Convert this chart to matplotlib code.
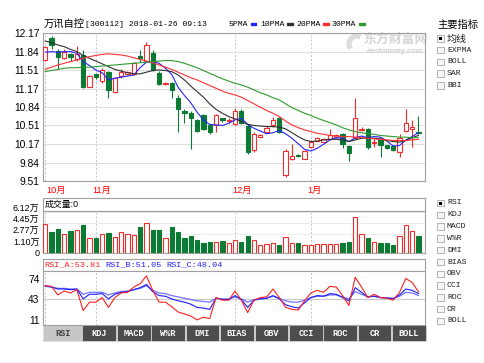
import matplotlib
matplotlib.use("Agg")
import matplotlib.pyplot as plt
import matplotlib.transforms as mtransforms
from matplotlib.patches import Rectangle, Wedge
import numpy as np

plt.rcParams["font.family"] = ["Liberation Sans", "Noto Sans CJK SC"]
MONO = ["Liberation Mono", "Noto Sans CJK SC"]

W, H = 485, 363

# ---- values: 60 daily sessions up to 2018-01-26 ----
open_ = [11.69, 12.09, 11.85, 11.73, 11.79, 11.70, 11.78, 11.21, 11.43, 11.31,
         11.47, 11.12, 11.40, 11.44, 11.44, 11.76, 11.68, 11.82, 11.46, 11.26,
         11.27, 11.01, 10.77, 10.74, 10.60, 10.69, 10.51, 10.51, 10.64, 10.59,
         10.54, 10.77, 10.50, 10.06, 10.31, 10.40, 10.51, 10.65, 9.61, 9.90,
         9.98, 9.91, 10.13, 10.23, 10.21, 10.27, 10.31, 10.35, 10.14, 10.29,
         10.43, 10.45, 10.20, 10.25, 10.15, 10.14, 10.04, 10.41, 10.45, 10.40]
high = [11.94, 12.12, 11.89, 11.88, 11.82, 11.94, 11.87, 11.42, 11.46, 11.55,
        11.50, 11.38, 11.52, 11.50, 11.65, 11.87, 12.02, 11.87, 11.50, 11.30,
        11.30, 11.05, 10.80, 10.77, 10.62, 10.71, 10.53, 10.71, 10.65, 10.64,
        10.83, 10.80, 10.53, 10.40, 10.36, 10.50, 10.66, 10.67, 10.08, 10.17,
        10.00, 10.06, 10.25, 10.30, 10.29, 10.45, 10.35, 10.37, 10.16, 11.00,
        10.48, 10.47, 10.28, 10.27, 10.16, 10.16, 10.36, 10.80, 10.60, 10.68]
low = [11.67, 11.88, 11.52, 11.71, 11.68, 11.68, 11.19, 11.20, 11.34, 11.28,
       11.01, 11.10, 11.37, 11.42, 11.42, 11.66, 11.66, 11.49, 11.23, 11.24,
       11.01, 10.40, 10.56, 10.08, 10.39, 10.43, 10.36, 10.40, 10.58, 10.55,
       10.52, 10.53, 10.00, 10.03, 10.29, 10.38, 10.49, 10.37, 9.59, 9.89,
       9.94, 9.90, 10.11, 10.21, 10.19, 10.25, 10.29, 10.11, 9.87, 10.27,
       10.41, 10.08, 10.12, 9.95, 10.08, 10.05, 9.94, 10.39, 10.12, 10.36]
close = [11.92, 11.96, 11.74, 11.83, 11.74, 11.80, 11.20, 11.40, 11.39, 11.51,
         11.15, 11.36, 11.48, 11.48, 11.63, 11.72, 11.96, 11.51, 11.25, 11.28,
         11.15, 10.81, 10.74, 10.64, 10.41, 10.45, 10.39, 10.69, 10.61, 10.61,
         10.77, 10.56, 10.03, 10.35, 10.33, 10.47, 10.61, 10.40, 10.05, 9.96,
         9.96, 10.05, 10.22, 10.28, 10.27, 10.33, 10.33, 10.17, 10.01, 10.65,
         10.45, 10.13, 10.22, 10.16, 10.10, 10.07, 10.29, 10.55, 10.48, 10.37]
# volume in 万
vol = [4.33, 3.09, 3.58, 2.84, 3.34, 3.44, 4.18, 2.29, 2.29, 2.79,
       2.94, 2.39, 3.09, 2.84, 2.69, 3.93, 4.43, 3.49, 3.49, 2.29,
       3.83, 3.19, 2.29, 2.59, 1.94, 1.44, 1.59, 1.69, 1.84, 1.49,
       1.94, 1.69, 2.59, 1.94, 1.25, 1.39, 1.49, 1.25, 2.39, 1.54,
       1.54, 1.15, 1.15, 1.39, 1.39, 1.34, 1.29, 1.54, 1.64, 5.33,
       2.79, 2.29, 1.69, 1.44, 1.44, 1.20, 2.54, 4.18, 3.34, 2.59]
ma5 = [11.83, 11.84, 11.83, 11.84, 11.84, 11.81, 11.66, 11.59, 11.51, 11.46,
       11.33, 11.36, 11.38, 11.40, 11.42, 11.55, 11.65, 11.66, 11.63, 11.54,
       11.43, 11.20, 11.05, 10.92, 10.75, 10.61, 10.53, 10.52, 10.51, 10.55,
       10.61, 10.64, 10.53, 10.46, 10.41, 10.36, 10.38, 10.42, 10.36, 10.28,
       10.18, 10.08, 10.05, 10.10, 10.17, 10.25, 10.29, 10.28, 10.22, 10.29,
       10.32, 10.29, 10.31, 10.30, 10.23, 10.14, 10.15, 10.25, 10.31, 10.38]
ma10 = [12.03, 12.00, 11.96, 11.93, 11.88, 11.84, 11.77, 11.72, 11.67, 11.62,
        11.57, 11.52, 11.49, 11.46, 11.44, 11.44, 11.47, 11.50, 11.51, 11.50,
        11.48, 11.42, 11.33, 11.22, 11.12, 11.02, 10.90, 10.80, 10.73, 10.67,
        10.63, 10.58, 10.53, 10.51, 10.50, 10.49, 10.49, 10.48, 10.45, 10.38,
        10.31, 10.25, 10.22, 10.23, 10.25, 10.26, 10.26, 10.25, 10.22, 10.25,
        10.28, 10.28, 10.28, 10.27, 10.24, 10.22, 10.21, 10.24, 10.29, 10.33]
ma20 = [11.52, 11.56, 11.60, 11.63, 11.66, 11.69, 11.72, 11.75, 11.77, 11.79,
        11.80, 11.79, 11.78, 11.76, 11.73, 11.70, 11.67, 11.64, 11.60, 11.56,
        11.52, 11.47, 11.42, 11.37, 11.33, 11.28, 11.23, 11.18, 11.13, 11.09,
        11.06, 11.02, 10.96, 10.90, 10.84, 10.78, 10.73, 10.67, 10.59, 10.52,
        10.47, 10.43, 10.40, 10.37, 10.35, 10.33, 10.32, 10.31, 10.31, 10.30,
        10.29, 10.28, 10.27, 10.26, 10.25, 10.24, 10.24, 10.24, 10.25, 10.26]
ma30 = [11.48, 11.50, 11.52, 11.54, 11.55, 11.55, 11.56, 11.56, 11.57, 11.58,
        11.59, 11.60, 11.61, 11.62, 11.63, 11.64, 11.65, 11.66, 11.67, 11.68,
        11.68, 11.66, 11.63, 11.59, 11.55, 11.50, 11.45, 11.40, 11.35, 11.31,
        11.27, 11.24, 11.20, 11.15, 11.10, 11.06, 11.01, 10.97, 10.90, 10.83,
        10.78, 10.73, 10.69, 10.64, 10.60, 10.56, 10.52, 10.47, 10.43, 10.40,
        10.38, 10.36, 10.35, 10.33, 10.32, 10.31, 10.30, 10.30, 10.29, 10.29]
rsi_a = [63, 62, 49, 55, 52, 57, 25, 38, 38, 45,
         30, 45, 52, 53, 61, 66, 78, 56, 38, 38,
         31, 23, 20, 17, 11, 15, 13, 45, 41, 41,
         55, 41, 22, 41, 45, 46, 58, 45, 30, 27,
         26, 40, 52, 56, 53, 62, 61, 48, 33, 76,
         61, 45, 50, 45, 44, 41, 53, 74, 68, 53.81]
rsi_b = [63, 61, 58, 58, 57, 58, 43, 50, 50, 51,
         43, 50, 53, 54, 57, 60, 65, 54, 48, 47,
         43, 40, 38, 35, 30, 29, 27, 44, 42, 42,
         48, 42, 30, 41, 43, 44, 48, 43, 34, 31,
         29, 37, 45, 48, 47, 51, 50, 45, 40, 60,
         53, 46, 47, 45, 44, 43, 49, 58, 56, 51.05]
rsi_c = [62, 61, 59, 59, 58, 58, 50, 53, 53, 53,
         49, 52, 54, 55, 57, 59, 63, 56, 52, 51,
         48, 46, 44, 42, 40, 39, 38, 44, 43, 43,
         46, 43, 38, 42, 43, 44, 47, 44, 40, 38,
         38, 41, 45, 47, 47, 49, 49, 46, 43, 54,
         50, 46, 47, 45, 45, 44, 47, 53, 52, 48.04]

month_labels = ["10月", "11月", "12月", "1月"]
month_start = [0, 8, 30, 42]
price_ticks = [12.17, 11.84, 11.51, 11.17, 10.84, 10.51, 10.17, 9.84, 9.51]
vol_ticks = [0, 1.10, 2.77, 4.45, 6.12]
rsi_ticks = [11, 43, 74]
ma_names = ["5PMA", "10PMA", "20PMA", "30PMA"]
main_opts = ["均线", "EXPMA", "BOLL", "SAR", "BBI"]
sub_opts = ["RSI", "KDJ", "MACD", "W%R", "DMI", "BIAS", "OBV", "CCI", "ROC", "CR", "BOLL"]

RED = "#f22c2c"
GREEN = "#0b7a35"
MA_COLORS = ["#2424ff", "#303030", "#ff3030", "#2f9a2f"]
FRAME = "#a0a0a0"
GRID = "#dedede"
VLINE = "#c4c4c4"


def px_box(x0, y0, x1, y1):
    return [x0 / W, 1 - y1 / H, (x1 - x0) / W, (y1 - y0) / H]


def style_panel(ax):
    for s in ax.spines.values():
        s.set_color(FRAME)
        s.set_linewidth(0.8)
    ax.set_xlim(-0.27, 60.03)
    ax.set_xticks([])
    ax.tick_params(axis="y", length=0, pad=3, labelsize=7.4)
    for m in month_start:
        ax.axvline(m, color=VLINE, lw=0.7, ls=(0, (2, 2)), zorder=0.5)


fig = plt.figure(figsize=(W / 100, H / 100), dpi=100)
fig.patch.set_facecolor("white")

ui = fig.add_axes([0, 0, 1, 1], zorder=-1)
ui.set_xlim(0, W)
ui.set_ylim(H, 0)
ui.axis("off")

idx = np.arange(len(close))
o = np.array(open_)
c = np.array(close)
up = c >= o
colors = np.where(up, RED, GREEN)
body_lo = np.minimum(o, c)
body_h = np.maximum(np.abs(c - o), 0.008)
bw = 0.68

# ---- price panel ----
ax = fig.add_axes(px_box(43.5, 33.3, 425, 181))
style_panel(ax)
ax.set_ylim(9.51, 12.17)
ax.set_yticks(price_ticks)
ax.set_yticklabels([f"{t:.2f}" for t in price_ticks])
ax.grid(axis="y", color=GRID, lw=0.8)
ax.set_axisbelow(True)
ax.vlines(idx, low, high, colors=colors, lw=0.8, zorder=2)
ax.bar(idx, body_h, bw, bottom=body_lo, color=np.where(up, "white", GREEN),
       edgecolor=colors, lw=0.8, zorder=3)
for vals, col in zip([ma5, ma10, ma20, ma30], MA_COLORS):
    ax.plot(idx, vals, color=col, lw=0.8, zorder=4)
for m, lab in zip(month_start, month_labels):
    ax.text(max(m - 0.5, 0.25), -0.062, lab, transform=ax.get_xaxis_transform(),
            color="#ff0000", fontsize=6.6, ha="left", va="center")

# watermark
ax.add_patch(Wedge((357, 44), 10, 150, 290, width=4, color="#dcdcdc",
                   transform=ui.transData, zorder=1))
ax.text(395, 40, "东方财富网", fontsize=9.3, color="#d4d4d4", fontweight="bold",
        ha="center", va="center", transform=ui.transData, zorder=1)
ax.text(395, 51.5, "eastmoney.com", fontsize=5.4, color="#d0d0d0", fontweight="bold",
        style="italic", ha="center", va="center", transform=ui.transData, zorder=1)

# ---- volume panel ----
av = fig.add_axes(px_box(43.5, 211, 425, 253))
style_panel(av)
av.set_ylim(0, 6.25)
av.set_yticks(vol_ticks)
av.set_yticklabels(["0" if t == 0 else f"{t:.2f}万" for t in vol_ticks], fontsize=6.5)
lift = mtransforms.ScaledTranslation(0, 3.5 / 100, fig.dpi_scale_trans)
for t, lab in zip(vol_ticks, av.get_yticklabels()):
    if t != 0:
        lab.set_transform(lab.get_transform() + lift)
av.grid(axis="y", color="#ececec", lw=0.7)
av.set_axisbelow(True)
av.bar(idx, vol, bw, color=np.where(up, "white", GREEN), edgecolor=colors, lw=0.8, zorder=3)

# ---- RSI panel ----
ar = fig.add_axes(px_box(43.5, 270.7, 425, 325))
style_panel(ar)
ar.set_ylim(3.2, 85.9)
ar.set_yticks(rsi_ticks)
ar.axhline(43, color="#c8c8c8", lw=0.8, zorder=0.5)
ar.plot(idx, rsi_c, color="#7272ff", lw=0.9, zorder=3)
ar.plot(idx, rsi_b, color="#1c1cff", lw=0.8, zorder=3)
ar.plot(idx, rsi_a, color="#ff2020", lw=0.8, zorder=4)

# ---- chrome: headers, legend, tabs, option lists ----
ui.text(44, 24, "万讯自控", fontsize=7.4, va="center", ha="left")
ui.text(85, 24, "[300112] 2018-01-26 09:13", fontsize=5.9, family=MONO, va="center", ha="left")
for k, (name, col) in enumerate(zip(ma_names, MA_COLORS)):
    x0 = [228.3, 260.7, 296.7, 331.7][k]
    ui.text(x0, 24, name, fontsize=5.9, family=MONO, va="center", ha="left")
    sq_x = [250.7, 287.3, 323.3, 359.3][k]
    ui.add_patch(Rectangle((sq_x, 22.7), 5.3, 2.8, color=col))

ui.add_patch(Rectangle((43.5, 197.7), 381.5, 13.3, fc="white", ec=FRAME, lw=0.8))
ui.text(45, 204.5, "成交量:0", fontsize=6.4, va="center", ha="left")
ui.add_patch(Rectangle((43.5, 259), 381.5, 11.7, fc="white", ec=FRAME, lw=0.8))
for x0, name, val, col in [(44.5, "RSI_A", rsi_a[-1], "#ff2020"),
                           (105, "RSI_B", rsi_b[-1], "#2020ff"),
                           (166, "RSI_C", rsi_c[-1], "#2020ff")]:
    ui.text(x0, 265, f"{name}:{val:.2f}", fontsize=6.1, family=MONO, color=col,
            va="center", ha="left")

for k, name in enumerate(sub_opts):
    if k == 0:
        x0, w = 43.5, 38.2
    else:
        x0, w = 82.5 + (k - 1) * 34.42, 33.6
    sel = k == 0
    ui.add_patch(Rectangle((x0, 325), w, 16, fc="#c6c6c6" if sel else "#4d4d4d",
                           ec="#dcdcdc", lw=0.5))
    ui.text(x0 + w / 2, 333.2, name, fontsize=6.2, family=MONO, fontweight="bold",
            color="#404040" if sel else "white", ha="center", va="center")


def checkbox(y, label, checked):
    ui.add_patch(Rectangle((437.5, y - 3.3), 6.5, 6.5, fc="#f6f6f6", ec="#a8a8a8", lw=0.6))
    if checked:
        ui.add_patch(Rectangle((439.3, y - 1.5), 3, 3, fc="black", ec="none"))
    cjk = any(ord(ch) > 0x2E80 for ch in label)
    ui.text(447, y, label, fontsize=7.2 if cjk else 5.9, family=MONO,
            va="center", ha="left", color="#202020")


ui.text(437, 25, "主要指标", fontsize=7.4, va="center", ha="left")
for k, lab in enumerate(main_opts):
    checkbox(38.5 + k * 11.7, lab, k == 0)
for k, lab in enumerate(sub_opts):
    checkbox(203 + k * 11.8, lab, k == 0)

fig.savefig("out.png", dpi=100)
